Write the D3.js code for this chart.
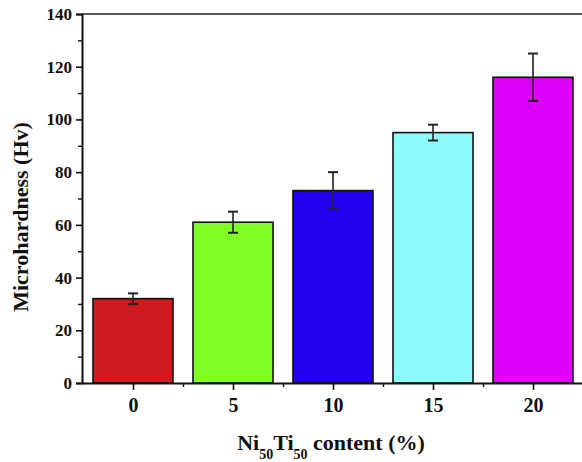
<!DOCTYPE html>
<html><head><meta charset="utf-8">
<script src="https://cdn.jsdelivr.net/npm/d3@7"></script>
<style>body{margin:0;background:#fff}svg{display:block}</style>
</head><body><svg id="c" width="582" height="462"></svg>
<script>
const categories = [0, 5, 10, 15, 20];
const values = [32, 61, 73, 95, 116];
const errors = [2, 4, 7, 3, 9];
const colors = ["#cf1b20", "#80ff24", "#2200ee", "#8cfdff", "#dc00f8"];
const yTicks = [0, 20, 40, 60, 80, 100, 120, 140];

const FONT = "'Liberation Serif'";
const svg = d3.select("#c");
const x = d3.scaleLinear().domain([-2.55, 22.55]).range([82, 584]);
const y = d3.scaleLinear().domain([0, 140]).range([383, 14]);
const bw = x(4) - x(0);

// bars
svg.selectAll("rect.bar").data(values).join("rect")
  .attr("x", (d, i) => x(categories[i]) - bw / 2)
  .attr("y", d => y(d))
  .attr("width", bw)
  .attr("height", d => y(0) - y(d))
  .attr("fill", (d, i) => colors[i])
  .attr("stroke", "#111").attr("stroke-width", 1.6);

// error bars
const eg = svg.append("g").attr("stroke", "#222").attr("stroke-width", 1.6);
values.forEach((v, i) => {
  const cx = x(categories[i]);
  eg.append("line").attr("x1", cx).attr("x2", cx).attr("y1", y(v + errors[i])).attr("y2", y(v - errors[i]));
  eg.append("line").attr("x1", cx - 5).attr("x2", cx + 5).attr("y1", y(v + errors[i])).attr("y2", y(v + errors[i])).attr("stroke-width", 2);
  eg.append("line").attr("x1", cx - 5).attr("x2", cx + 5).attr("y1", y(v - errors[i])).attr("y2", y(v - errors[i])).attr("stroke-width", 2);
});

function styleText(sel, size) {
  sel.attr("font-family", "Liberation Serif").attr("font-weight", "bold").attr("font-size", size)
    .style("font-family", FONT).style("font-weight", "bold").style("font-size", size + "px").attr("fill", "#111");
}

// y axis
const ya = svg.append("g").attr("transform", "translate(82,0)")
  .call(d3.axisLeft(y).tickValues(yTicks).tickSize(6).tickPadding(4));
ya.attr("font-family", null).attr("font-size", null);
ya.select(".domain").attr("stroke", "#111").attr("stroke-width", 2);
ya.selectAll(".tick line").attr("stroke", "#111").attr("stroke-width", 1.6);
styleText(ya.selectAll(".tick text"), 17);
const ym = svg.append("g").attr("transform", "translate(82,0)")
  .call(d3.axisLeft(y).tickValues(d3.range(10, 140, 20)).tickSize(4).tickFormat(""));
ym.select(".domain").remove();
ym.selectAll(".tick line").attr("stroke", "#111").attr("stroke-width", 1.4);

// x axis
const xa = svg.append("g").attr("transform", "translate(0,383)")
  .call(d3.axisBottom(x).tickValues(categories).tickSize(7).tickPadding(8).tickSizeOuter(0));
xa.attr("font-family", null).attr("font-size", null);
xa.select(".domain").attr("stroke", "#111").attr("stroke-width", 2);
xa.selectAll(".tick line").attr("stroke", "#111").attr("stroke-width", 1.6);
styleText(xa.selectAll(".tick text"), 20);
const xm = svg.append("g").attr("transform", "translate(0,383)")
  .call(d3.axisBottom(x).tickValues([2.5, 7.5, 12.5, 17.5]).tickSize(4).tickFormat(""));
xm.select(".domain").remove();
xm.selectAll(".tick line").attr("stroke", "#111").attr("stroke-width", 1.4);

// top frame
svg.append("line").attr("x1", 82).attr("x2", 582).attr("y1", 14).attr("y2", 14).attr("stroke", "#222").attr("stroke-width", 1.6);

// titles
const yt = svg.append("text").attr("transform", "translate(28,217) rotate(-90)").attr("text-anchor", "middle")
  .text("Microhardness (Hv)");
styleText(yt, 22);
const xt = svg.append("text").attr("x", 331).attr("y", 450).attr("text-anchor", "middle");
styleText(xt, 22);
xt.append("tspan").text("Ni");
xt.append("tspan").attr("dy", 9).style("font-size", "14px").text("50");
xt.append("tspan").attr("dy", -9).text("Ti");
xt.append("tspan").attr("dy", 9).style("font-size", "14px").text("50");
xt.append("tspan").attr("dy", -9).text(" content (%)");
</script></body></html>
